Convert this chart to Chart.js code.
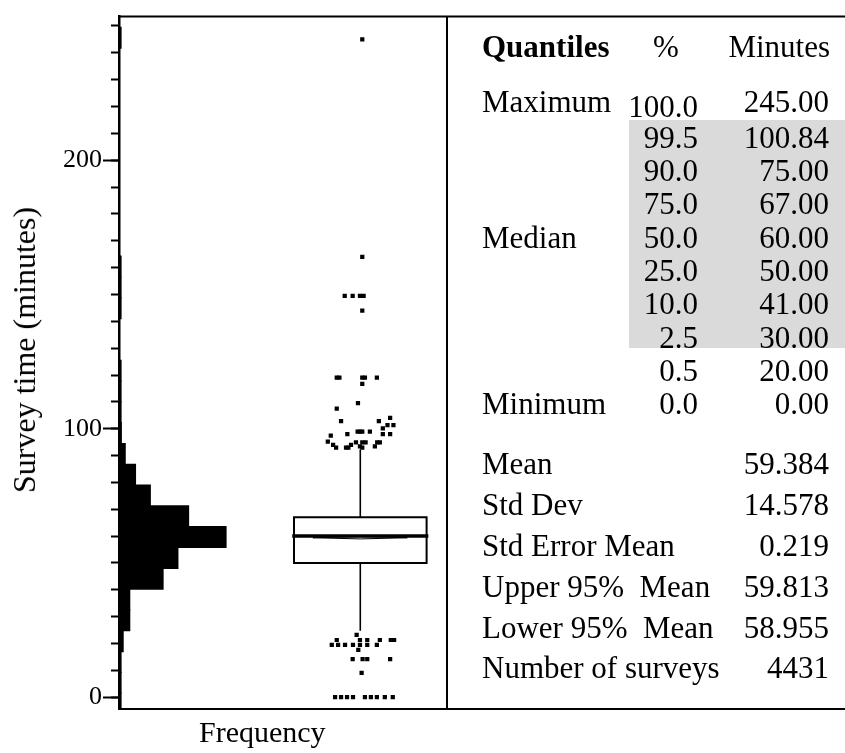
<!DOCTYPE html>
<html>
<head>
<meta charset="utf-8">
<script src="https://cdn.jsdelivr.net/npm/chart.js@4"></script>
<style>
html,body{margin:0;padding:0;background:#fff;}
#wrap{position:relative;width:845px;height:753px;font-family:"Liberation Serif","Times New Roman",serif;color:#000;overflow:hidden;}
#wrap canvas{position:absolute;left:0;top:0;}
.t{position:absolute;white-space:pre;}
#shade{position:absolute;left:629px;top:120px;width:216px;height:228px;background:#dadada;}
#ytitle{position:absolute;white-space:nowrap;font-size:32px;line-height:32px;left:24px;top:350px;transform:translate(-50%,-50%) rotate(-90deg);}
</style>
</head>
<body>
<div id="wrap">
  <canvas id="c" width="845" height="753"></canvas>
  <div id="shade"></div>
  <div id="ytitle">Survey time (minutes)</div>
</div>
<script>
// ---------- data ----------
// histogram: lower edge of each bin (minutes) and frequency
const binLower  = [-6.25, 1.5, 9.25, 17, 24.75, 32.5, 40.25, 48, 55.75, 63.5, 71.25, 79, 86.75, 94.5, 102.25, 110, 117.75, 141, 148.75, 156.5, 241.75];
const binCounts = [14, 1, 5, 50, 130, 130, 535, 715, 1300, 845, 380, 200, 75, 28, 6, 3, 6, 1, 4, 1, 1];
const binWidth = 7.75;

// box plot statistics (minutes)
const quartiles = [50, 60, 67];             // Q1, median, Q3
const whiskers  = [25, 92];                 // lower / upper whisker ends
const meanCI    = [58.955, 59.384, 59.813]; // lower 95%, mean, upper 95%

// outlying surveys (minutes) and their horizontal jitter (box half-widths)
const outlierMinutes = [245, 164, 149.5, 149.5, 149.5, 149.5, 144, 119, 119, 119, 119, 119, 116.7, 109.5, 107.5, 104, 102.8, 102.8, 101.3, 101.3, 100.1,
  98.9, 98.9, 98.9, 98.9, 98, 98, 98, 97.4, 95.2, 94.9, 94.9, 94.9, 94.9, 94.9, 94, 94, 93.4, 93.4, 93, 93, 93, 93,
  23.2, 21.3, 21.3, 21.3, 21.3, 21.3, 21.3, 19.5, 19.5, 19.5, 19.5, 19.5, 19.5, 19.5, 17.6, 14.2, 14.2, 14.2, 14.2, 9.1,
  0, 0, 0, 0, 0, 0, 0, 0, 0];
const outlierJitter = [0.03, 0.03, -0.235, -0.115, -0.005, 0.05, 0.03, -0.355, -0.315, 0.03, 0.07, 0.25, 0.03, -0.035, -0.355, 0.45, -0.29, 0.28, 0.41, 0.50, 0.34,
  -0.04, -0.005, 0.03, 0.145, -0.195, 0.34, 0.45, -0.445, -0.49, -0.065, 0.03, 0.08, 0.255, 0.295, -0.41, -0.14, 0.22, -0.005, -0.365, -0.215, -0.18, 0.03,
  -0.055, -0.355, -0.005, 0.105, 0.295, 0.46, 0.51, -0.43, -0.335, -0.23, -0.11, -0.005, 0.105, 0.25, -0.03, -0.115, 0.035, 0.105, 0.45, 0.02,
  -0.38, -0.29, -0.2, -0.11, 0.07, 0.16, 0.25, 0.37, 0.49];

// y-axis labelled ticks
const yTickLabels = [0, 100, 200];

// table contents
const quantileNames    = ['Maximum', '', '', '', 'Median', '', '', '', '', 'Minimum'];
const quantilePercents = ['100.0', '99.5', '90.0', '75.0', '50.0', '25.0', '10.0', '2.5', '0.5', '0.0'];
const quantileMinutes  = ['245.00', '100.84', '75.00', '67.00', '60.00', '50.00', '41.00', '30.00', '20.00', '0.00'];
const momentNames  = ['Mean', 'Std Dev', 'Std Error Mean', 'Upper 95%  Mean', 'Lower 95%  Mean', 'Number of surveys'];
const momentValues = ['59.384', '14.578', '0.219', '59.813', '58.955', '4431'];

// ---------- chart ----------
const SERIF = '"Liberation Serif","Times New Roman",serif';
const histData = binLower.map((lo, i) => ({x: binCounts[i], y: lo + binWidth / 2}));
const boxHalf = 1;
const boxOutline = [
  {x: -boxHalf, y: quartiles[2]}, {x: boxHalf, y: quartiles[2]},
  {x: boxHalf, y: quartiles[0]}, {x: -boxHalf, y: quartiles[0]}, {x: -boxHalf, y: quartiles[2]}
];
const medianLine = [{x: -boxHalf, y: quartiles[1]}, {x: boxHalf, y: quartiles[1]}];
const dHalf = 0.71;
const diamond = [
  {x: -dHalf, y: meanCI[1]}, {x: 0, y: meanCI[2]}, {x: dHalf, y: meanCI[1]}, {x: 0, y: meanCI[0]}, {x: -dHalf, y: meanCI[1]}
];
const upperWhisker = [{x: 0, y: quartiles[2]}, {x: 0, y: whiskers[1]}];
const lowerWhisker = [{x: 0, y: quartiles[0]}, {x: 0, y: whiskers[0]}];
const outliers = outlierMinutes.map((v, i) => ({x: outlierJitter[i], y: v}));

const lineDs = (data, w) => ({
  type: 'line', data, xAxisID: 'xBox', yAxisID: 'y',
  borderColor: '#000', borderWidth: w, pointRadius: 0, fill: false, tension: 0,
  borderCapStyle: 'square', borderJoinStyle: 'miter'
});

const framePlugin = {
  id: 'frame',
  afterDraw(chart) {
    const {ctx, chartArea: {left, top, right, bottom}, width} = chart;
    ctx.save();
    ctx.strokeStyle = '#000';
    ctx.lineWidth = 2;
    ctx.beginPath();
    ctx.moveTo(left, top); ctx.lineTo(width, top);
    ctx.moveTo(left, bottom); ctx.lineTo(width, bottom);
    ctx.moveTo(right, top); ctx.lineTo(right, bottom);
    ctx.stroke();
    ctx.restore();
  }
};

const Y_MIN = -4.4, Y_MAX = 253.5;

new Chart(document.getElementById('c'), {
  type: 'scatter',
  data: {
    datasets: [
      {
        type: 'bar', label: 'Frequency', data: histData, indexAxis: 'y',
        xAxisID: 'xHist', yAxisID: 'y', grouped: false,
        backgroundColor: '#000', borderWidth: 0, inflateAmount: 0.6,
        barPercentage: 1, categoryPercentage: 1, minBarLength: 2
      },
      lineDs(boxOutline, 2),
      lineDs(medianLine, 3.5),
      lineDs(diamond, 1),
      lineDs(upperWhisker, 1.6),
      lineDs(lowerWhisker, 1.6),
      {
        type: 'scatter', data: outliers, xAxisID: 'xBox', yAxisID: 'y',
        pointStyle: 'rect', pointRadius: 3, pointBackgroundColor: '#000',
        pointBorderWidth: 0, showLine: false
      }
    ]
  },
  options: {
    responsive: false,
    animation: false,
    devicePixelRatio: 1,
    events: [],
    layout: {padding: {left: 0, top: 8, right: 398, bottom: 44}},
    plugins: {legend: {display: false}, tooltip: {enabled: false}},
    scales: {
      xHist: {type: 'linear', axis: 'x', position: 'bottom', display: false, min: 0, max: 3985},
      xBox: {type: 'linear', axis: 'x', position: 'bottom', display: false, min: -3.639, max: 1.3077},
      y: {
        type: 'linear', axis: 'y', position: 'left', weight: 0,
        min: Y_MIN, max: Y_MAX, offset: false,
        afterFit: s => { s.width = 0; },
        ticks: {display: false, stepSize: 10, includeBounds: false},
        grid: {display: true, drawOnChartArea: false, offset: false, tickLength: 8, tickWidth: 2, tickColor: '#000'},
        border: {display: true, color: '#000', width: 2.5}
      },
      yMajor: {
        type: 'linear', axis: 'y', position: 'left', weight: 1,
        min: Y_MIN, max: Y_MAX, offset: false,
        afterFit: s => { s.width = 119; },
        afterBuildTicks: s => { s.ticks = yTickLabels.map(v => ({value: v})); },
        ticks: {stepSize: 100, includeBounds: false, padding: 1, color: '#000',
                font: {family: SERIF, size: 26}},
        grid: {display: true, drawOnChartArea: false, offset: false, tickLength: 16, tickWidth: 2, tickColor: '#000'},
        border: {display: false}
      }
    }
  },
  plugins: [framePlugin]
});

// ---------- statistics table (HTML text) ----------
const wrap = document.getElementById('wrap');
function addText(txt, x, baseline, align, size, bold) {
  const d = document.createElement('div');
  d.className = 't';
  d.textContent = txt;
  d.style.fontSize = size + 'px';
  d.style.lineHeight = size + 'px';
  d.style.top = (baseline - 0.8375 * size) + 'px';
  if (align === 'right') d.style.right = (845 - x) + 'px';
  else d.style.left = x + 'px';
  if (bold) d.style.fontWeight = 'bold';
  wrap.appendChild(d);
}
const FS = 31;
const colName = 482, colPct = 698, colVal = 829;
addText('Quantiles', colName, 57, 'left', FS, true);
addText('%', 653, 57, 'left', FS, false);
addText('Minutes', colVal + 1, 57, 'right', FS, false);
quantilePercents.forEach((p, i) => {
  const base = i === 0 ? 111.7 : 147.7 + (i - 1) * 33.33;
  const pctBase = i === 0 ? 116.7 : base;
  if (quantileNames[i]) addText(quantileNames[i], colName, base, 'left', FS, false);
  addText(p, colPct, pctBase, 'right', FS, false);
  addText(quantileMinutes[i], colVal, base, 'right', FS, false);
});
momentNames.forEach((n, i) => {
  const base = 474.3 + i * 40.8;
  addText(n, colName, base, 'left', FS, false);
  addText(momentValues[i], colVal, base, 'right', FS, false);
});
addText('Frequency', 199, 742, 'left', 30, false);
</script>
</body>
</html>
